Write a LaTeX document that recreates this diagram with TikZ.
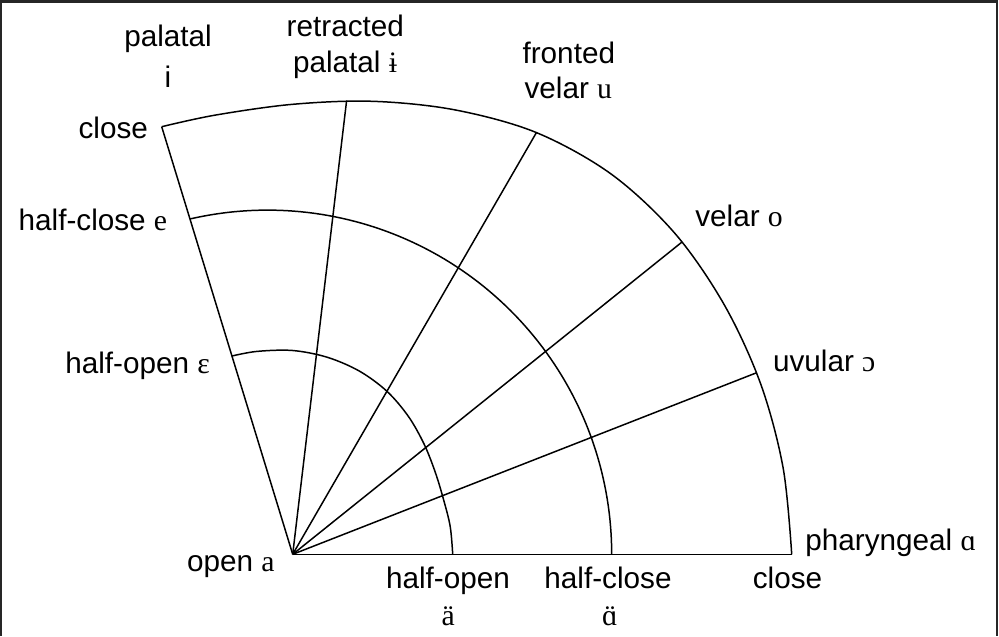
\documentclass[tikz,border=0pt]{standalone}
\usepackage{fontspec}
\setmainfont{Liberation Sans}
\newfontfamily\ipafont{Liberation Serif}
\begin{document}
\begin{tikzpicture}[x=0.02cm,y=-0.02cm,
  chart/.style={line width=0.85pt, line join=round},
  lbl/.style={inner sep=0pt, font=\fontsize{16.9}{20}\selectfont},
  frame/.style={line width=1.3pt, black!85}]
\useasboundingbox (0,0) rectangle (999,636);
\draw[frame] (1,636) -- (1,1.5) -- (997,1.5) -- (997,636);

% apex and outer points
\coordinate (A) at (292.7,554.3);
\coordinate (O1) at (161.7,126.7);
\coordinate (O2) at (346.6,100.7);
\coordinate (O3) at (536.4,132.6);
\coordinate (O4) at (681.9,242.1);
\coordinate (O5) at (756.4,372.8);
\coordinate (O6) at (791.7,554.3);

% radial lines
\draw[chart] (A) -- (O1);
\draw[chart] (A) -- (O2);
\draw[chart] (A) -- (O3);
\draw[chart] (A) -- (O4);
\draw[chart] (A) -- (O5);
\draw[chart] (A) -- (O6);

% arcs
\draw[chart] plot[smooth, tension=0.55] coordinates {(161.7,126.7) (215.3,115.1) (292.7,104.3) (372.6,101.3) (454.5,109.8) (536.2,132.5) (611.5,174.3) (675.0,233.5) (724.4,305.05) (760.7,384.0) (783.1,467.8) (791.7,554.3)};
\draw[chart] plot[domain=0:103, samples=90] ({267.5+344.2*cos(\x)},{554.3-344.2*sin(\x)});
\draw[chart] plot[smooth, tension=0.55] coordinates {(232.0,356.0) (256.9,351.4) (292.7,350.5) (327.4,357.3) (359.4,371.1) (386.85,391.2) (408.4,416.4) (424.1,444.1) (435.2,472.05) (443.5,499.4) (450.2,526.5) (452.7,554.3)};

% labels
\node[lbl, anchor=base] (pal) at (168,46) {palatal};
\node[lbl, anchor=base] (pali) at (168,87) {i};
\node[lbl, anchor=base] (ret) at (345.3,36.7) {retracted};
\node[lbl, anchor=base] (retp) at (345,72.7) {palatal {\ipafont ɨ}};
\node[lbl, anchor=base] (fro) at (568.8,63.3) {fronted};
\node[lbl, anchor=base] (frov) at (568.3,98.3) {velar {\ipafont u}};
\node[lbl, anchor=base east] (cl) at (148.3,138) {close};
\node[lbl, anchor=base west] (hc) at (18.3,230) {half-close {\ipafont e}};
\node[lbl, anchor=base west] (ho) at (65,373.3) {half-open {\ipafont ɛ}};
\node[lbl, anchor=base west] (op) at (186.7,571.7) {open {\ipafont a}};
\node[lbl, anchor=base] (bho) at (448,588.3) {half-open};
\node[lbl, anchor=base] (bhoa) at (448.3,625) {\ipafont ä};
\node[lbl, anchor=base] (bhc) at (608,588.3) {half-close};
\node[lbl, anchor=base] (bhca) at (610,625) {\ipafont\ooalign{ɑ\cr\hidewidth¨\hidewidth\cr}};
\node[lbl, anchor=base] (bcl) at (787.5,588.3) {close};
\node[lbl, anchor=base west] (ph) at (805,550.7) {pharyngeal {\ipafont ɑ}};
\node[lbl, anchor=base west] (vel) at (695,226.7) {velar {\ipafont o}};
\node[lbl, anchor=base west] (uv) at (772.7,371.7) {uvular {\ipafont ɔ}};
\end{tikzpicture}
\end{document}
